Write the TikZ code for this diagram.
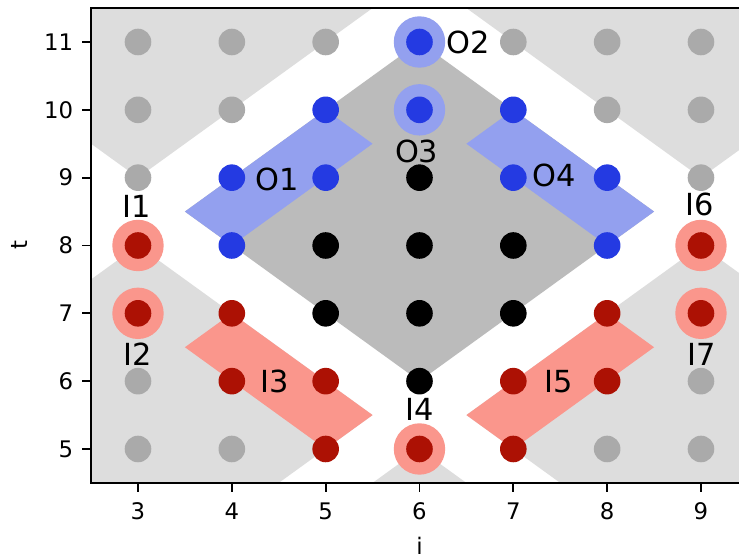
\documentclass[tikz,border=0pt]{standalone}
\usepackage{fontspec}
\setmainfont{DejaVu Sans}
\definecolor{bgray}{RGB}{221,221,221}
\definecolor{dgray}{RGB}{187,187,187}
\definecolor{pgray}{RGB}{170,170,170}
\definecolor{oblue}{RGB}{36,58,226}
\definecolor{lblue}{RGB}{147,160,239}
\definecolor{ired}{RGB}{172,17,4}
\definecolor{lred}{RGB}{250,150,140}

\begin{document}
\begin{tikzpicture}[x=46.915pt,y=33.915pt,
  site/.style={circle,fill=#1,inner sep=0,minimum size=13.3pt},
  halo/.style={circle,fill=#1,inner sep=0,minimum size=25.7pt},
  lab/.style={inner sep=0,font=\fontsize{15.2}{18}\selectfont},
  ticklab/.style={inner sep=0,font=\fontsize{11.4}{14}\selectfont},
  spine/.style={line width=0.9pt,line cap=rect}]
\useasboundingbox[fill=white] (1.5293,3.4517) rectangle (9.4053,11.6192);
% regions
\begin{scope}
\clip (2.5,4.5) rectangle (9.5,11.5);
\fill[bgray] (2.5,9.5) -- (3,9) -- (5.5,11.5) -- (2.5,11.5) -- cycle;
\fill[bgray] (6.5,11.5) -- (9,9) -- (9.5,9.5) -- (9.5,11.5) -- cycle;
\fill[bgray] (2.5,4.5) -- (2.5,7.5) -- (3,8) -- (5.5,5.5) -- (4.5,4.5) -- cycle;
\fill[bgray] (5.5,4.5) -- (6,5) -- (6.5,4.5) -- cycle;
\fill[bgray] (9.5,4.5) -- (9.5,7.5) -- (9,8) -- (6.5,5.5) -- (7.5,4.5) -- cycle;
\fill[dgray] (6,11) -- (3.5,8.5) -- (6,6) -- (8.5,8.5) -- cycle;
\fill[lblue] (3.5,8.5) -- (5,10) -- (5.5,9.5) -- (4,8) -- cycle;
\fill[lblue] (6.5,9.5) -- (7,10) -- (8.5,8.5) -- (8,8) -- cycle;
\fill[lred] (3.5,6.5) -- (4,7) -- (5.5,5.5) -- (5,5) -- cycle;
\fill[lred] (6.5,5.5) -- (7,5) -- (8.5,6.5) -- (8,7) -- cycle;
\end{scope}
% halos
\node[halo=lblue] (h-6-11) at (6,11) {};
\node[halo=lblue] (h-6-10) at (6,10) {};
\foreach \i/\t in {3/8,3/7,6/5,9/8,9/7}
  \node[halo=lred] (h-\i-\t) at (\i,\t) {};
% sites
\foreach \i/\t in {3/11,4/11,5/11,7/11,8/11,9/11,3/10,4/10,8/10,9/10,3/9,9/9,3/6,9/6,3/5,4/5,8/5,9/5}
  \node[site=pgray] (p-\i-\t) at (\i,\t) {};
\foreach \i/\t in {6/11,5/10,6/10,7/10,4/9,5/9,7/9,8/9,4/8,8/8}
  \node[site=oblue] (p-\i-\t) at (\i,\t) {};
\foreach \i/\t in {6/9,5/8,6/8,7/8,5/7,6/7,7/7,6/6}
  \node[site=black] (p-\i-\t) at (\i,\t) {};
\foreach \i/\t in {3/8,9/8,3/7,4/7,8/7,9/7,4/6,5/6,7/6,8/6,5/5,6/5,7/5}
  \node[site=ired] (p-\i-\t) at (\i,\t) {};
% labels
\node[lab] (O1) at (4.48,8.97) {O1};
\node[lab] (O2) at (6.52,10.99) {O2};
\node[lab] (O3) at (5.97,9.39) {O3};
\node[lab] (O4) at (7.44,9.03) {O4};
\node[lab] (I1) at (2.99,8.58) {I1};
\node[lab] (I2) at (3.0,6.39) {I2};
\node[lab] (I3) at (4.46,6.0) {I3};
\node[lab] (I4) at (6.0,5.58) {I4};
\node[lab] (I5) at (7.48,6.0) {I5};
\node[lab] (I6) at (8.99,8.6) {I6};
\node[lab] (I7) at (9.01,6.4) {I7};
% axes
\draw[spine] (2.5,11.5) -- (2.5,4.5) -- (9.5,4.5);
\draw[spine] (2.5,11.5) -- (9.5,11.5);
\foreach \i in {3,...,9} {
  \draw[spine] (\i,4.5) -- ++(0,-4pt);
  \node[ticklab] (x\i) at (\i,4.086) {\i};
}
\foreach \t in {5,...,11} {
  \draw[spine] (2.5,\t) -- ++(-4pt,0);
  \node[ticklab,anchor=east] (y\t) at (2.3126,\t) {\t};
}
\node[ticklab,rotate=90] (tlab) at (1.742,8) {t};
\node[ticklab,anchor=north] (ilab) at (6,3.7023) {i};
\end{tikzpicture}
\end{document}
